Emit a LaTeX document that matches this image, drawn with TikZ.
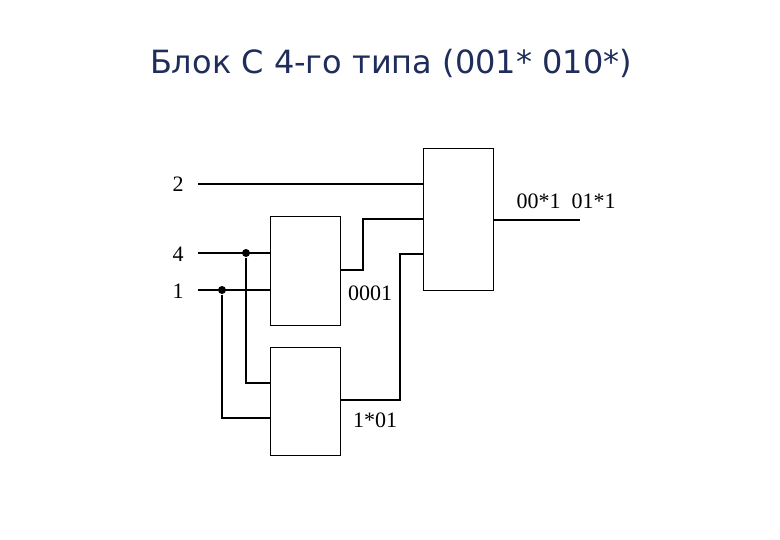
\documentclass[tikz,border=0pt]{standalone}
\usepackage{fontspec}
\setmainfont{Liberation Serif}
\newfontfamily\titlefont{DejaVu Sans}
\definecolor{titlecol}{HTML}{1F2D5A}
\begin{document}
\begin{tikzpicture}[x=1pt,y=-1pt,line width=1.3pt,
  blk/.style={draw,line width=1.3pt,minimum width=70pt,anchor=north west,inner sep=0pt},
  lbl/.style={font=\fontsize{22}{22}\selectfont,inner sep=0pt},
  dot/.style={circle,fill,inner sep=0pt,minimum size=8pt}]
\useasboundingbox (0,0) rectangle (780,540);
\node[font=\titlefont\fontsize{32}{32}\selectfont,text=titlecol,inner sep=0pt] (title) at (391,63) {Блок С 4-го типа (001* 010*)};
\node[blk,minimum height=109pt] (A) at (270,216) {};
\node[blk,minimum height=108pt] (B) at (270,347) {};
\node[blk,minimum height=142pt] (C) at (423,148) {};
\node[lbl] (l2) at (178,184) {2};
\node[lbl] (l4) at (178,254) {4};
\node[lbl] (l1) at (178,291) {1};
\node[lbl] (o1) at (370,293) {0001};
\node[lbl] (o2) at (375,420) {1*01};
\node[lbl] (o3) at (566,201) {00*1\ \ 01*1};
\coordinate (i2) at (198,184);
\coordinate (i4) at (198,253);
\coordinate (i1) at (198,290);
\coordinate (out) at (580,220);
\node[dot] (d4) at (246,253) {};
\node[dot] (d1) at (222,290) {};
\draw (i2) -- (i2 -| C.west);
\draw (i4) -- (i4 -| A.west);
\draw (i1) -- (i1 -| A.west);
\draw (d4) |- (B.west |- 0,383);
\draw (d1) |- (B.west |- 0,418);
\draw (A.east |- 0,270) -- (363,270) |- (C.west |- 0,219);
\draw (B.east |- 0,400) -- (400,400) |- (C.west |- 0,254);
\draw (C.east |- out) -- (out);
\end{tikzpicture}
\end{document}
